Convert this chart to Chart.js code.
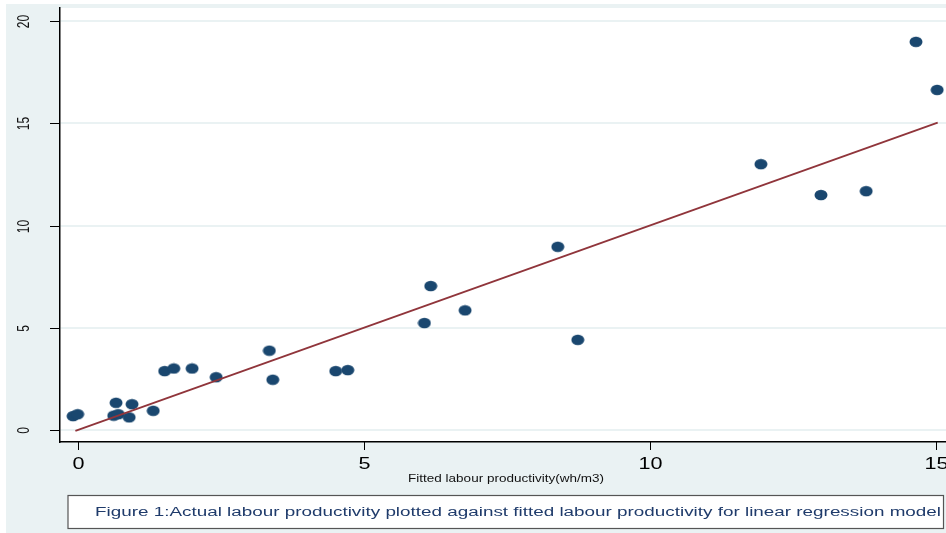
<!DOCTYPE html>
<html>
<head>
<meta charset="utf-8">
<script src="https://cdn.jsdelivr.net/npm/chart.js@4/dist/chart.umd.min.js"></script>
<style>
  html, body { margin: 0; padding: 0; background: #ffffff; }
  #wrap { width: 946px; height: 533px; }
</style>
</head>
<body>
<div id="wrap"><canvas id="c" width="946" height="533"></canvas></div>
<script>
// Fitted (x) vs actual (y) labour productivity, wh/m3
const fittedValues = [-0.08, 0.00, 0.67, 0.95, 0.63, 0.71, 0.90, 1.32, 1.52, 1.68, 2.00, 2.42,
                      3.35, 3.41, 4.51, 4.72, 6.17, 6.06, 6.77, 8.39, 8.74, 11.94, 12.99, 13.78,
                      14.65, 15.02];
const actualValues = [0.68, 0.77, 1.33, 1.26, 0.70, 0.77, 0.62, 0.94, 2.88, 3.01, 3.01, 2.58,
                      3.88, 2.46, 2.88, 2.93, 7.04, 5.23, 5.85, 8.96, 4.41, 13.00, 11.49, 11.68,
                      18.98, 16.63];
// Reference line (actual = fitted)
const fitLineX = [-0.04, 15.03];
const fitLineY = [-0.04, 15.03];

const xTickValues = [0, 5, 10, 15];
const yTickValues = [0, 5, 10, 15, 20];

const xTitle = 'Fitted labour productivity(wh/m3)';
const caption = 'Figure 1:Actual labour productivity plotted against fitted labour productivity for linear regression model';

const NAVY = '#1a476f';
const MAROON = '#90353b';
const BLUISH = '#eaf2f3';
const STRETCH = 1.35; // horizontal text stretch

// elliptical marker
const marker = document.createElement('canvas');
marker.width = 14; marker.height = 12;
(function () {
  const m = marker.getContext('2d');
  m.fillStyle = NAVY;
  m.beginPath();
  m.ellipse(7, 6, 6.5, 5.3, 0, 0, Math.PI * 2);
  m.fill();
})();

const points = fittedValues.map((x, i) => ({ x: x, y: actualValues[i] }));
const linePts = fitLineX.map((x, i) => ({ x: x, y: fitLineY[i] }));

function stretchedText(ctx, text, x, y, font, color, sx, rotate) {
  ctx.save();
  ctx.font = font;
  ctx.fillStyle = color;
  ctx.textAlign = 'center';
  ctx.textBaseline = 'middle';
  ctx.translate(x, y);
  ctx.scale(sx, 1);
  if (rotate) ctx.rotate(-Math.PI / 2);
  ctx.fillText(text, 0, 0);
  ctx.restore();
}

const frame = {
  id: 'frame',
  beforeDraw(chart) {
    const ctx = chart.ctx;
    const a = chart.chartArea;
    ctx.save();
    ctx.fillStyle = '#ffffff';
    ctx.fillRect(0, 0, chart.width, chart.height);
    ctx.fillStyle = BLUISH;
    ctx.fillRect(6, 4, chart.width - 6, chart.height - 4);
    ctx.fillStyle = '#ffffff';
    ctx.fillRect(a.left, a.top, a.right - a.left, a.bottom - a.top);
    ctx.restore();
  },
  afterDraw(chart) {
    const ctx = chart.ctx;
    const a = chart.chartArea;
    const xs = chart.scales.x, ys = chart.scales.y;
    ctx.save();
    ctx.strokeStyle = '#000000';
    ctx.lineWidth = 1;
    // y ticks and labels
    yTickValues.forEach(v => {
      const py = Math.round(ys.getPixelForValue(v)) + 0.5;
      ctx.beginPath();
      ctx.moveTo(a.left - 10, py);
      ctx.lineTo(a.left, py);
      ctx.stroke();
      stretchedText(ctx, String(v), 25, py, '12px "Liberation Sans", Arial, sans-serif', '#111111', STRETCH, true);
    });
    // x ticks and labels
    xTickValues.forEach(v => {
      const px = Math.round(xs.getPixelForValue(v)) + 0.5;
      ctx.beginPath();
      ctx.moveTo(px, a.bottom);
      ctx.lineTo(px, a.bottom + 8);
      ctx.stroke();
      stretchedText(ctx, String(v), px, 465, '16px "Liberation Sans", Arial, sans-serif', '#000000', STRETCH, false);
    });
    // x axis title
    stretchedText(ctx, xTitle, (a.left + a.right) / 2 + 3, 479, '10px "Liberation Sans", Arial, sans-serif', '#111111', STRETCH, false);

    // caption box
    ctx.fillStyle = '#ffffff';
    ctx.fillRect(68, 495.5, 875.5, 33);
    ctx.strokeStyle = '#555555';
    ctx.lineWidth = 1.2;
    ctx.strokeRect(68, 495.5, 875.5, 33);
    ctx.font = '12px "Liberation Sans", Arial, sans-serif';
    const w = ctx.measureText(caption).width;
    const sx = 846 / w;
    ctx.save();
    ctx.fillStyle = '#1f3b6b';
    ctx.textAlign = 'left';
    ctx.textBaseline = 'middle';
    ctx.translate(95, 512.5);
    ctx.scale(sx, 1);
    ctx.fillText(caption, 0, 0);
    ctx.restore();
    ctx.restore();
  }
};

new Chart(document.getElementById('c'), {
  type: 'scatter',
  data: {
    datasets: [
      {
        type: 'line',
        data: linePts,
        borderColor: MAROON,
        borderWidth: 1.8,
        pointRadius: 0,
        fill: false,
        clip: false,
        order: 0
      },
      {
        type: 'scatter',
        data: points,
        pointStyle: marker,
        pointRadius: 6,
        clip: false,
        order: 1
      }
    ]
  },
  options: {
    responsive: false,
    animation: false,
    events: [],
    layout: { autoPadding: false, padding: { top: 8, right: 0, left: 0, bottom: 0 } },
    plugins: { legend: { display: false }, tooltip: { enabled: false } },
    scales: {
      x: {
        type: 'linear',
        min: -0.309,
        max: 15.175,
        ticks: { display: false },
        afterBuildTicks: s => { s.ticks = xTickValues.map(v => ({ value: v })); },
        afterFit: s => { s.height = 91; },
        grid: { drawOnChartArea: false, drawTicks: false },
        border: { display: true, color: '#000000', width: 1.5 }
      },
      y: {
        type: 'linear',
        min: -0.587,
        max: 20.636,
        ticks: { display: false },
        afterBuildTicks: s => { s.ticks = yTickValues.map(v => ({ value: v })); },
        afterFit: s => { s.width = 60; },
        grid: { color: BLUISH, lineWidth: 2, drawTicks: false },
        border: { display: true, color: '#000000', width: 1.5 }
      }
    }
  },
  plugins: [frame]
});
</script>
</body>
</html>
